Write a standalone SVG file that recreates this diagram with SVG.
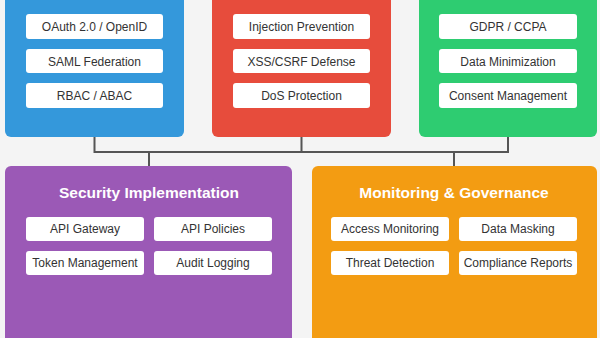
<svg xmlns="http://www.w3.org/2000/svg" width="600" height="338" viewBox="0 0 600 338">
<style>
.bg{fill:#f4f4f4}
.panel{stroke:none}
.item{fill:#ffffff}
.lbl{font-family:"Liberation Sans",Arial,sans-serif;font-size:12px;fill:#333333;text-anchor:middle;dominant-baseline:central}
.title{font-family:"Liberation Sans",Arial,sans-serif;font-size:15.5px;font-weight:bold;fill:#ffffff;text-anchor:middle;dominant-baseline:central}
.conn{fill:none;stroke:#555555;stroke-width:2}
</style>
<rect class="bg" x="0" y="0" width="600" height="338"/>
<g id="connectors">
<polyline class="conn" points="94.5,137 94.5,152 508,152 508,137"/>
<line class="conn" x1="301.5" y1="137" x2="301.5" y2="152"/>
<line class="conn" x1="149" y1="152" x2="149" y2="166"/>
<line class="conn" x1="454" y1="152" x2="454" y2="166"/>
</g>
<g id="authentication">
<rect class="panel" x="5" y="-20" width="179" height="157" rx="6" fill="#3498db"/>
<rect class="item" x="26" y="14" width="137" height="25" rx="3"/>
<text class="lbl" x="94.5" y="26.5">OAuth 2.0 / OpenID</text>
<rect class="item" x="26" y="49" width="137" height="24" rx="3"/>
<text class="lbl" x="94.5" y="61.5">SAML Federation</text>
<rect class="item" x="26" y="83" width="137" height="25" rx="3"/>
<text class="lbl" x="94.5" y="96">RBAC / ABAC</text>
</g>
<g id="protection">
<rect class="panel" x="212" y="-20" width="179" height="157" rx="6" fill="#e74c3c"/>
<rect class="item" x="233" y="14" width="137" height="25" rx="3"/>
<text class="lbl" x="301.5" y="26.5">Injection Prevention</text>
<rect class="item" x="233" y="49" width="137" height="24" rx="3"/>
<text class="lbl" x="301.5" y="61.5">XSS/CSRF Defense</text>
<rect class="item" x="233" y="83" width="137" height="25" rx="3"/>
<text class="lbl" x="301.5" y="96">DoS Protection</text>
</g>
<g id="privacy">
<rect class="panel" x="419" y="-20" width="178" height="157" rx="6" fill="#2ecc71"/>
<rect class="item" x="439" y="14" width="138" height="25" rx="3"/>
<text class="lbl" x="508" y="26.5">GDPR / CCPA</text>
<rect class="item" x="439" y="49" width="138" height="24" rx="3"/>
<text class="lbl" x="508" y="61.5">Data Minimization</text>
<rect class="item" x="439" y="83" width="138" height="25" rx="3"/>
<text class="lbl" x="508" y="96">Consent Management</text>
</g>
<g id="security-implementation">
<rect class="panel" x="5" y="166" width="287" height="200" rx="6" fill="#9b59b6"/>
<text class="title" x="149" y="192">Security Implementation</text>
<rect class="item" x="26" y="217" width="118" height="24" rx="3"/>
<text class="lbl" x="85" y="229">API Gateway</text>
<rect class="item" x="154" y="217" width="118" height="24" rx="3"/>
<text class="lbl" x="213" y="229">API Policies</text>
<rect class="item" x="26" y="251" width="118" height="24" rx="3"/>
<text class="lbl" x="85" y="263">Token Management</text>
<rect class="item" x="154" y="251" width="118" height="24" rx="3"/>
<text class="lbl" x="213" y="263">Audit Logging</text>
</g>
<g id="monitoring-governance">
<rect class="panel" x="312" y="166" width="285" height="200" rx="6" fill="#f39c12"/>
<text class="title" x="454" y="192">Monitoring &amp; Governance</text>
<rect class="item" x="331" y="217" width="118" height="24" rx="3"/>
<text class="lbl" x="390" y="229">Access Monitoring</text>
<rect class="item" x="459" y="217" width="118" height="24" rx="3"/>
<text class="lbl" x="518" y="229">Data Masking</text>
<rect class="item" x="331" y="251" width="118" height="24" rx="3"/>
<text class="lbl" x="390" y="263">Threat Detection</text>
<rect class="item" x="459" y="251" width="118" height="24" rx="3"/>
<text class="lbl" x="518" y="263">Compliance Reports</text>
</g>
</svg>
